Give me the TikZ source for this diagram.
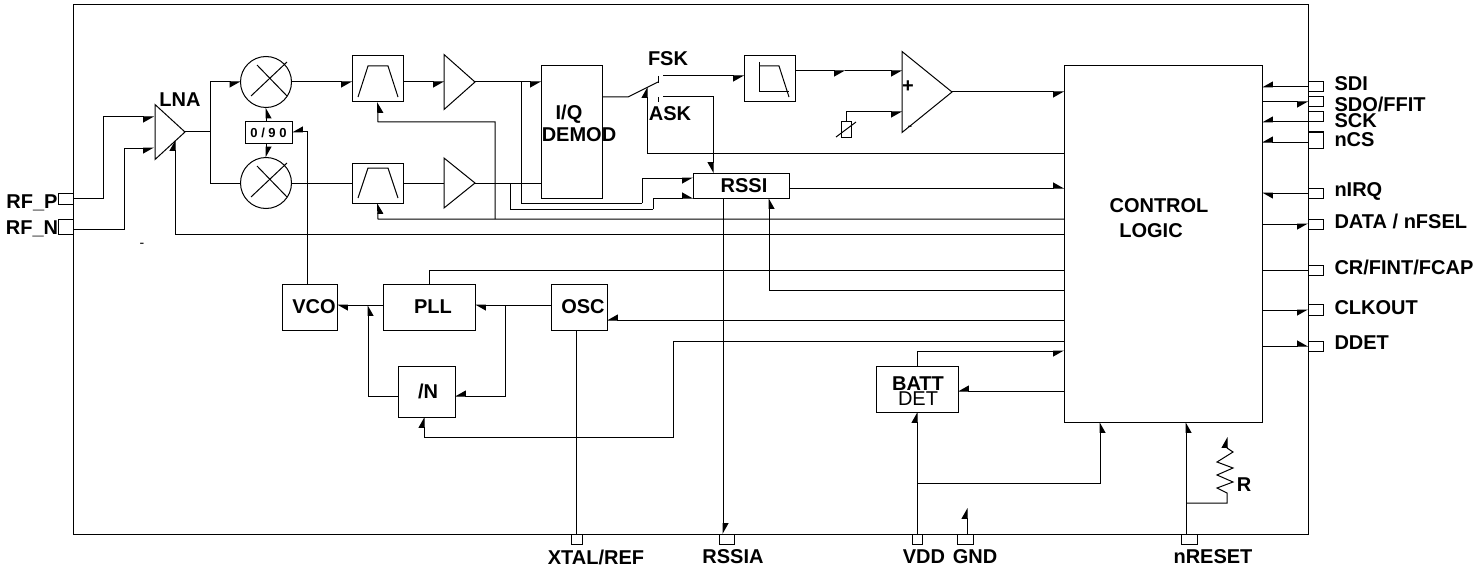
\documentclass[tikz,border=0pt]{standalone}
\usepackage{fontspec}
\setmainfont{Liberation Sans}
\usetikzlibrary{arrows.meta,shapes.geometric}
\tikzstyle{block} = [draw,rectangle,inner sep=0pt,outer sep=0pt]
\tikzstyle{mixer} = [draw,circle,inner sep=0pt,outer sep=0pt,minimum size=25.5pt]
\tikzstyle{amp} = [draw,isosceles triangle,isosceles triangle stretches,inner sep=0pt,outer sep=0pt,anchor=apex]
\tikzstyle{lbl} = [font=\fontsize{10}{11}\bfseries\selectfont,inner sep=0pt]
\tikzstyle{edge} = [draw]
\tikzstyle{edger} = [draw,-{Triangle[harpoon,swap,length=5pt,width=5.5pt]}]
\tikzstyle{edgel} = [draw,-{Triangle[harpoon,length=5pt,width=5.5pt]}]

\begin{document}
\begin{tikzpicture}[x=0.5pt,y=-0.5pt,line width=0.5pt]
     \useasboundingbox (0,0) rectangle (1482,567);
     % First we draw the plain boxes and the pins
     \foreach \pos/\name/\bw/\bh in { {(690.5,269.5)/chip/1235/529},
       {(65.5,198.5)/rfp/15/11}, {(65.5,226.5)/rfn/15/15},
       {(377.5,79)/filtA/51/46}, {(377.5,183)/filtB/51/40},
       {(769.5,79)/lpf/51/46}, {(571.5,132)/demod/61/132},
       {(917,389)/batt/82/46}, {(1163,244)/ctrl/198/356}, {(846,129.5)/varR/10/15},
       {(1315.5,87)/sdi/15/10}, {(1315.5,102)/sdo/15/10}, {(1315.5,117)/sck/15/10},
       {(1315.5,140)/ncs/15/16}, {(1315.5,193)/nirq/15/10}, {(1315.5,224)/fsel/15/10},
       {(1315.5,270)/fcap/15/10}, {(1315.5,310)/clkout/15/11}, {(1315.5,346)/ddet/15/10},
       {(576.5,539)/xtal/11/10}, {(726.5,539)/rssia/15/10}, {(917,539)/vdd/10/10},
       {(965,539)/gnd/16/10}, {(1189,539)/nreset/16/10}}
     \node[block,minimum width=\bw*0.5pt,minimum height=\bh*0.5pt] (\name) at \pos {};

     % Boxes with their text, shifted a little to the right
     \foreach \pos/\name/\bw/\bh/\off/\txt in { {(309.5,307)/vco/55/46/4.5/VCO},
       {(429,307)/pll/92/46/4/PLL}, {(579,307)/osc/56/46/4/OSC},
       {(426.5,391.5)/div/57/51/1.5/{/N}}, {(741,185.5)/rssi/96/25/3/RSSI}}
     \node[block,lbl,minimum width=\bw*0.5pt,minimum height=\bh*0.5pt] (\name) at \pos {\hspace*{\off pt}\txt};
     \node[block,font=\fontsize{6.5}{7}\bfseries\selectfont,minimum width=23.5pt,minimum height=10.5pt] (lo) at (268.5,132.5) {0 / 9 0};

     \node[mixer] (mixA) at (266,82) {};
     \node[mixer] (mixB) at (266,183) {};
     \foreach \name in {mixA,mixB} {
       \draw ([shift={(-15,14)}]\name.center) -- ([shift={(21,-20)}]\name.center);
       \draw ([shift={(-9,-17)}]\name.center) -- ([shift={(21,14)}]\name.center);
     }
     % Here the width runs along the base
     \foreach \pos/\name/\bw/\bh in { {(185,132)/lna/27.5/15}, {(475,82)/ampA/27.5/15.5},
       {(475,183)/ampB/25/15.5}, {(952,92)/cmp/40.5/25}}
     \node[amp,minimum width=\bw pt,minimum height=\bh pt] (\name) at \pos {};

     % The symbols inside the filter boxes
     \draw (358,97) -- (368,66) -- (388,66) -- (398,97);
     \draw (358,198) -- (368,168) -- (388,168) -- (398,198);
     \draw (759,62) -- (759,92) -- (789,92);
     \draw (759,66) -- (779,66) -- (789,97);
     \draw (836,137) -- (856,122);

     % All the free ends and corners
     \foreach \pos/\name in { {(73,229)/rfnOut}, {(154,117)/lnaInA}, {(154,148)/lnaInB},
       {(103,117)/lnaCnrA}, {(124,148)/lnaCnrB},
       {(175,140)/lnaGain}, {(175,234)/gainLine}, {(210,132)/split},
       {(521,82)/tapA}, {(642,203)/tapAb}, {(693,178)/rssiInA},
       {(510,183)/tapB}, {(653,209)/tapBb}, {(693,198)/rssiInB},
       {(602,97)/demodOut}, {(628,97)/swPivot}, {(658,82)/swArm},
       {(658,76)/swFsk}, {(658,83)/swFskEnd}, {(658,97)/swAsk}, {(658,102)/swAskEnd},
       {(663,76)/fskOut}, {(663,97)/askOut}, {(713,173)/rssiTop},
       {(647,153)/swCtl}, {(647,87)/swTip},
       {(795,71)/lpfOut}, {(845,71)/cmpMid}, {(902,71)/cmpInA}, {(902,112)/cmpInB},
       {(789,188)/rssiOut}, {(378,219)/fbLine}, {(495,219)/fbTee}, {(378,122)/fbTop},
       {(429,270)/pllCtl}, {(769,290)/rssiCtl}, {(607,320)/oscCtl},
       {(673,341)/divCtl}, {(424,437)/divCnr}, {(424,417)/divIn},
       {(1064,351)/battCtl}, {(958,391)/battIn},
       {(551,305)/oscOut}, {(475,305)/pllIn}, {(383,305)/pllOut}, {(337,305)/vcoIn},
       {(505,305)/tapOsc}, {(455,396)/divInB}, {(398,396)/divOut}, {(368,305)/tapVco},
       {(307,284)/vcoOut}, {(292,132)/loIn}, {(576.5,330)/oscDown},
       {(723,198)/rssiDown}, {(723,534)/rssiaIn},
       {(917,483)/vddTap}, {(1100,422)/ctrlVdd},
       {(967,534)/gndOut}, {(967,508)/gndTip},
       {(1186,534)/rstOut}, {(1186,422)/rstIn}, {(1186,503)/rstTap},
       {(1227,493)/resA}, {(1227,448)/resB}, {(1227,437)/resTip},
       {(1308,122)/sckIn}, {(1308,142)/ncsIn}}
     \node[coordinate] (\name) at \pos {};

     % Connect the blocks on the left
     \path[edger] (rfp.east) -| (lnaCnrA) -- (lnaInA);
     \path[edger] (rfnOut) -| (lnaCnrB) -- (lnaInB);
     \path[edge] (lna.apex) -- (split);
     \path[edger] (split) |- (mixA.west);
     \path[edge] (split) |- (mixB.west);
     \path[edger] (mixA.south |- lo.north) -- (mixA.south);
     \path[edgel] (mixB.north |- lo.south) -- (mixB.north);
     \path[edger] (mixA.east) -- (mixA.east -| filtA.west);
     \path[edge] (mixB.east) -- (mixB.east -| filtB.west);
     \path[edger] (mixA.east -| filtA.east) -- (mixA.east -| ampA.west);
     \path[edge] (mixB.east -| filtB.east) -- (mixB.east -| ampB.west);
     \path[edger] (ampA.apex) -- (ampA.apex -| demod.west);
     \path[edge] (ampB.apex) -- (ampB.apex -| demod.west);
     \path[edge] (tapA) |- (tapAb);
     \path[edger] (tapAb) |- (rssiInA);
     \path[edge] (tapB) |- (tapBb);
     \path[edgel] (tapBb) |- (rssiInB);

     % The switch and the comparator
     \path[edge] (demodOut) -- (swPivot) -- (swArm);
     \path[edge] (swFsk) -- (swFskEnd);
     \path[edge] (swAsk) -- (swAskEnd);
     \path[edger] (fskOut) -- (fskOut -| lpf.west);
     \path[edger] (askOut) -| (rssiTop);
     \path[edgel] (swCtl -| ctrl.west) -- (swCtl) -- (swTip);
     \path[edger] (lpfOut) -- (cmpMid);
     \path[edger] (cmpMid) -- (cmpInA);
     \path[edger] (varR.north) |- (cmpInB);
     \path[edger] (cmp.apex) -- (cmp.apex -| ctrl.west);
     \path[edgel] (rssiOut) -- (rssiOut -| ctrl.west);

     % Lines coming out of the control logic
     \path[edger] (fbLine -| ctrl.west) -- (fbLine) -- (filtB.south);
     \path[edger] (fbTee) |- (fbTop) -- (filtA.south);
     \path[edgel] (gainLine -| ctrl.west) -- (gainLine) -- (lnaGain);
     \path[edge] (pllCtl -| ctrl.west) -- (pllCtl) -- (pll.north);
     \path[edger] (rssiCtl -| ctrl.west) -- (rssiCtl) -- (rssiCtl |- rssi.south);
     \path[edger] (oscCtl -| ctrl.west) -- (oscCtl);
     \path[edgel] (divCtl -| ctrl.west) -- (divCtl) |- (divCnr) -- (divIn);
     \path[edger] (batt.north) |- (battCtl);
     \path[edger] (battIn -| ctrl.west) -- (battIn);

     % The synthesizer
     \path[edgel] (oscOut) -- (pllIn);
     \path[edgel] (pllOut) -- (vcoIn);
     \path[edger] (tapOsc) |- (divInB);
     \path[edger] (divOut) -| (tapVco);
     \path[edger] (vcoOut) |- (loIn);
     \path[edge] (oscDown) -- (xtal.north);
     \path[edgel] (rssiDown) -- (rssiaIn);

     % Pins at the bottom
     \path[edgel] (vdd.north) -- (batt.south);
     \path[edger] (vddTap) -| (ctrlVdd);
     \path[edgel] (gndOut) -- (gndTip);
     \path[edger] (rstOut) -- (rstIn);
     \path[edgel] (rstTap) -| (resA) -- (1217,488) -- (1233,482) -- (1217,475) -- (1233,468) -- (1217,462) -- (1233,452) -- (resB) -- (resTip);

     % Pins on the right
     \foreach \source/\sty in { sdi.west/edger, sckIn/edger, ncsIn/edger, nirq.west/edgel}
     \path[\sty] (\source) -- (\source -| ctrl.east);
     \foreach \dest/\sty in { sdo.west/edger, fsel.west/edger, fcap.west/edge,
       clkout.west/edger, ddet.west/edgel}
     \path[\sty] (\dest -| ctrl.east) -- (\dest);

     % Then the texts
     \foreach \pos/\name/\txt in { {(180,100)/lblLna/LNA}, {(32,203)/lblRfp/RF\_P},
       {(32,228.5)/lblRfn/RF\_N}, {(668,59)/lblFsk/FSK}, {(670,114)/lblAsk/ASK},
       {(569,114)/lblIq/{I/Q}}, {(579,135)/lblDemod/DEMOD},
       {(1159,206)/lblControl/CONTROL}, {(1151,231)/lblLogic/LOGIC},
       {(918,384)/lblBatt/BATT}, {(908,87)/lblPlus/+}, {(1244,485)/lblR/R},
       {(596,557)/lblXtal/{XTAL/REF}}, {(733,557)/lblRssia/RSSIA},
       {(924,557)/lblVdd/VDD}, {(975,557)/lblGnd/GND}, {(1213,557)/lblReset/nRESET}}
     \node[lbl] (\name) at \pos {\txt};
     \node[font=\fontsize{10}{11}\selectfont,inner sep=0pt] (lblDet) at (918,399) {DET};
     \foreach \pos/\name in { {(910,128)/lblMinus}, {(142,245)/lblDash}}
     \node[font=\fontsize{7}{8}\selectfont,inner sep=0pt] (\name) at \pos {-};
     \foreach \y/\name/\txt in { 84/lblSdi/SDI, 104/lblSdo/{SDO/FFIT}, 121/lblSck/SCK,
       140/lblNcs/nCS, 191/lblNirq/nIRQ, 221/lblFsel/{DATA / nFSEL},
       267/lblFcap/{CR/FINT/FCAP}, 308/lblClk/CLKOUT, 343/lblDdet/DDET}
     \node[lbl,anchor=west] (\name) at (1334,\y) {\txt};
 \end{tikzpicture}
\end{document}
